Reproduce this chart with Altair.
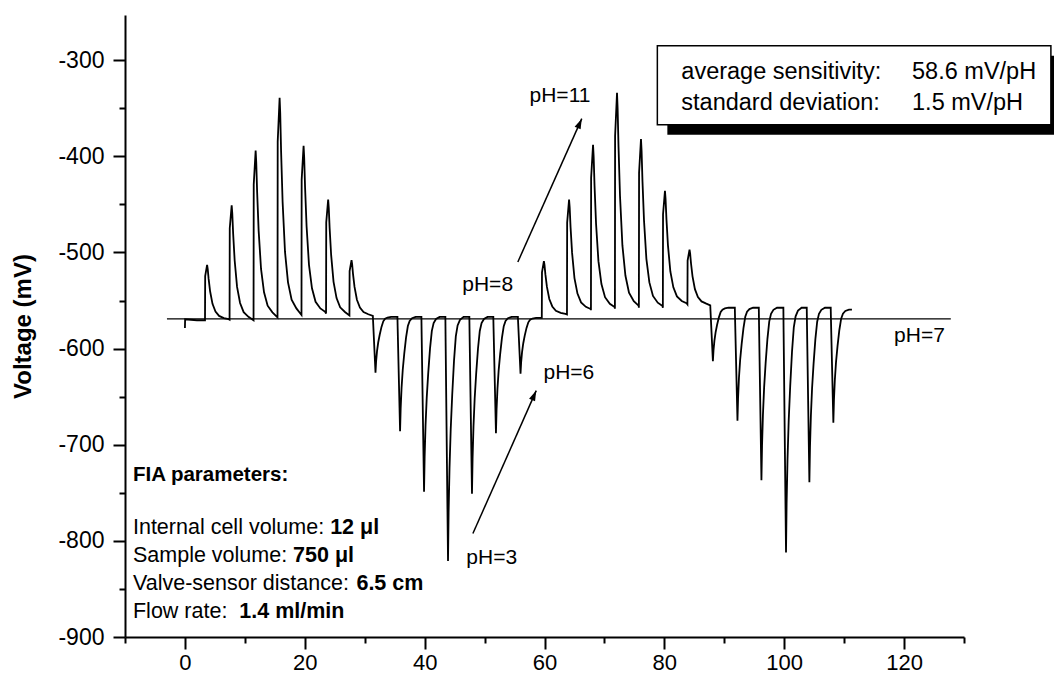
import altair as alt
import pandas as pd

FONT = "Liberation Sans"

# ---------------- trace values ----------------
START_X = [0.0, 0.03, 2.0]
START_Y = [-578.5, -569.5, -570.5]

POS1_T = [3.7, 7.8, 11.8, 15.8, 19.8, 23.9, 27.8]
POS1_PEAK = [-513, -451, -394, -339, -389, -445, -508]
POS1_BASE = [-570.5, -570.0, -570.5, -567.5, -565.0, -563.5, -565.5]

NEG1_T = [31.8, 35.9, 39.9, 43.9, 47.9, 51.9, 56.0]
NEG1_MIN = [-625, -686, -749, -821, -751, -688, -626]
NEG1_BASE = [-566.0, -567.0, -567.0, -567.0, -567.0, -567.0, -567.0]

POS2_T = [59.9, 64.1, 68.1, 72.1, 76.1, 80.1, 84.2]
POS2_PEAK = [-509, -445, -388, -334, -382, -436, -497]
POS2_BASE = [-568.0, -564.5, -560.0, -558.5, -557.5, -557.5, -554.0]

NEG2_T = [88.1, 92.2, 96.2, 100.3, 104.2, 108.2]
NEG2_MIN = [-613, -675, -737, -812, -739, -677]
NEG2_BASE = [-555.0, -557.5, -557.5, -557.5, -557.5, -557.5]

END_X = 111.3
END_Y = -559.5

# pulse shape read from the largest peaks (time offset, fraction of amplitude)
UP_RISE_DT = [-0.35, -0.32, 0.0]
UP_RISE_F = [0.0, 0.8, 1.0]
UP_DECAY_DT = [0.1, 0.25, 0.5, 0.9, 1.4, 2.0, 2.8, 3.6]
UP_DECAY_F = [0.93, 0.75, 0.52, 0.29, 0.15, 0.07, 0.03, 0.01]
DN_FALL_DT = [-0.44, -0.4, 0.0]
DN_FALL_F = [0.0, 0.1, 1.0]
DN_REC_DT = [0.1, 0.25, 0.45, 0.7, 1.0, 1.3, 1.6, 2.0, 2.6]
DN_REC_F = [0.8, 0.62, 0.46, 0.32, 0.18, 0.08, 0.035, 0.012, 0.0]

# reference line pH=7
REF_X = [-3.0, 127.8]
REF_Y = [-569.0, -569.0]

# ---------------- build trace ----------------
T = POS1_T + NEG1_T + POS2_T + NEG2_T
P = POS1_PEAK + NEG1_MIN + POS2_PEAK + NEG2_MIN
B = POS1_BASE + NEG1_BASE + POS2_BASE + NEG2_BASE
E = B[1:] + [END_Y]
rows = list(zip(START_X, START_Y))
n = len(T)
for i in range(n):
    t, p, b, e = T[i], P[i], B[i], E[i]
    up = p > b
    r_dt, r_f, d_dt, d_f = ((UP_RISE_DT, UP_RISE_F, UP_DECAY_DT, UP_DECAY_F) if up
                            else (DN_FALL_DT, DN_FALL_F, DN_REC_DT, DN_REC_F))
    if i + 1 < n:
        nxt_up = P[i + 1] > B[i + 1]
        limit = T[i + 1] + (UP_RISE_DT[0] if nxt_up else DN_FALL_DT[0])
    else:
        limit = END_X
    for dt, f in zip(r_dt, r_f):
        rows.append((t + dt, b + f * (p - b)))
    for dt, f in zip(d_dt, d_f):
        if t + dt < limit - 0.05:
            rows.append((t + dt, e + f * (p - e)))
rows.append((END_X, END_Y))
trace = pd.DataFrame(rows, columns=["x", "y"])
trace["i"] = range(len(trace))

ref = pd.DataFrame({"x": REF_X, "y": REF_Y})

# ---------------- scales / axes ----------------
X_DOMAIN = [-10, 130]
Y_DOMAIN = [-900, -253]
X_TICKS = list(range(-10, 131, 10))
Y_TICKS = list(range(-900, -299, 50))

xaxis = alt.Axis(
    values=X_TICKS, title=None, grid=False,
    labelExpr="datum.value % 20 === 0 ? '' + datum.value : ''",
    tickSize={"condition": {"test": "datum.value % 20 === 0", "value": 12}, "value": 6},
    domainColor="black", domainWidth=2, tickColor="black", tickWidth=2,
    labelFont=FONT, labelFontSize=22, labelColor="black", labelPadding=3,
    labelFlush=False, labelOverlap=False,
)
yaxis = alt.Axis(
    values=Y_TICKS, title="Voltage (mV)", grid=False,
    labelExpr="datum.value % 100 === 0 ? '' + datum.value : ''",
    tickSize={"condition": {"test": "datum.value % 100 === 0", "value": 12}, "value": 6},
    domainColor="black", domainWidth=2, tickColor="black", tickWidth=2,
    labelFont=FONT, labelFontSize=23, labelColor="black", labelPadding=9,
    labelFlush=False, labelOverlap=False,
    titleFont=FONT, titleFontSize=24, titleFontWeight="bold", titleColor="black",
    titleAngle=270, titleAlign="center", titleBaseline="middle", titleX=-102, titleY=311,
)
XS = alt.Scale(domain=X_DOMAIN, nice=False, zero=False)
YS = alt.Scale(domain=Y_DOMAIN, nice=False, zero=False)


def X(f="x"):
    return alt.X(f"{f}:Q", scale=XS, axis=xaxis)


def Y(f="y"):
    return alt.Y(f"{f}:Q", scale=YS, axis=yaxis)


# ---------------- annotation content ----------------
BOX = pd.DataFrame({"x": [78.83], "x2": [144.5], "y": [-284.9], "y2": [-367.1]})
SHADOW = pd.DataFrame({"x": [80.5], "x2": [146.2], "y": [-295.3], "y2": [-377.5]})
BOX_TEXT = pd.DataFrame({
    "x": [82.83, 82.83, 121.33, 121.33],
    "y": [-312.3, -344.5, -312.3, -344.5],
    "t": ["average sensitivity:", "standard deviation:", "58.6 mV/pH", "1.5 mV/pH"],
})
PH_TEXT = pd.DataFrame({
    "x": [57.5, 46.28, 59.83, 46.95, 118.33],
    "y": [-337.6, -533.5, -625.3, -817.6, -587.2],
    "t": ["pH=11", "pH=8", "pH=6", "pH=3", "pH=7"],
})
ARROWS = pd.DataFrame({
    "x": [55.55, 48.05], "y": [-509.9, -792.4],
    "x2": [66.22, 58.62], "y2": [-360.8, -643.7],
})

# FIA parameter block
FIA_X = -8.67
FIA_TITLE_Y = -731.7
FIA_Y = [-786.4, -815.9, -845.3, -874.1]
FIA_NORMAL = ["Internal cell volume: ", "Sample volume: ", "Valve-sensor distance: ", "Flow rate:  "]
FIA_BOLD = ["12 \u03bcl", "750 \u03bcl", "6.5 cm", "1.4 ml/min"]
FIA_SIZE = 21.5

ARIAL_W = {"I": 278, "n": 556, "t": 278, "e": 556, "r": 333, "a": 556, "l": 222, "c": 500,
           "v": 500, "o": 556, "u": 556, "m": 833, ":": 278, " ": 278, "S": 667, "p": 556,
           "V": 667, "-": 333, "s": 500, "d": 556, "i": 222, "F": 611, "w": 722}


def tw(s, size):
    return sum(ARIAL_W.get(c, 556) for c in s) * size / 1000.0


layers = []
layers.append(alt.Chart(SHADOW).mark_rect(color="black").encode(
    x=X(), x2="x2:Q", y=Y(), y2="y2:Q"))
layers.append(alt.Chart(BOX).mark_rect(fill="white", stroke="black", strokeWidth=1.5).encode(
    x=X(), x2="x2:Q", y=Y(), y2="y2:Q"))
layers.append(alt.Chart(ref).mark_line(color="black", strokeWidth=1.3).encode(x=X(), y=Y()))
layers.append(alt.Chart(trace).mark_line(color="black", strokeWidth=1.8).encode(
    x=X(), y=Y(), order="i:Q"))
layers.append(alt.Chart(BOX_TEXT).mark_text(align="left", baseline="middle", font=FONT,
                                            fontSize=23.5, color="black").encode(
    x=X(), y=Y(), text="t:N"))
layers.append(alt.Chart(PH_TEXT).mark_text(align="left", baseline="middle", font=FONT,
                                           fontSize=21, color="black").encode(
    x=X(), y=Y(), text="t:N"))
layers.append(alt.Chart(ARROWS).mark_rule(color="black", strokeWidth=1.5).encode(
    x=X(), x2="x2:Q", y=Y(), y2="y2:Q"))
layers.append(alt.Chart(ARROWS).mark_point(
    shape="M0,0 L-0.32,1 L0.32,1 Z", size=420, filled=True, color="black", opacity=1,
    angle=24).encode(x=X("x2"), y=Y("y2")))

fia_title = pd.DataFrame({"x": [FIA_X], "y": [FIA_TITLE_Y], "t": ["FIA parameters:"]})
layers.append(alt.Chart(fia_title).mark_text(align="left", baseline="middle", font=FONT,
                                             fontSize=20.5, fontWeight="bold", color="black").encode(
    x=X(), y=Y(), text="t:N"))
for yy, norm, bold in zip(FIA_Y, FIA_NORMAL, FIA_BOLD):
    d = pd.DataFrame({"x": [FIA_X], "y": [yy], "t": [norm], "b": [bold]})
    layers.append(alt.Chart(d).mark_text(align="left", baseline="middle", font=FONT,
                                         fontSize=FIA_SIZE, color="black").encode(
        x=X(), y=Y(), text="t:N"))
    layers.append(alt.Chart(d).mark_text(align="left", baseline="middle", font=FONT,
                                         fontSize=FIA_SIZE, fontWeight="bold", color="black",
                                         dx=tw(norm, FIA_SIZE)).encode(
        x=X(), y=Y(), text="b:N"))

chart = alt.layer(*layers).properties(
    width=839, height=622,
    padding={"left": 117, "top": 7, "right": 90, "bottom": 37},
    autosize=alt.AutoSizeParams(type="none"),
    background="white",
).configure_view(stroke=None)

chart.save("out.html", embed_options={"renderer": "svg", "actions": False})
